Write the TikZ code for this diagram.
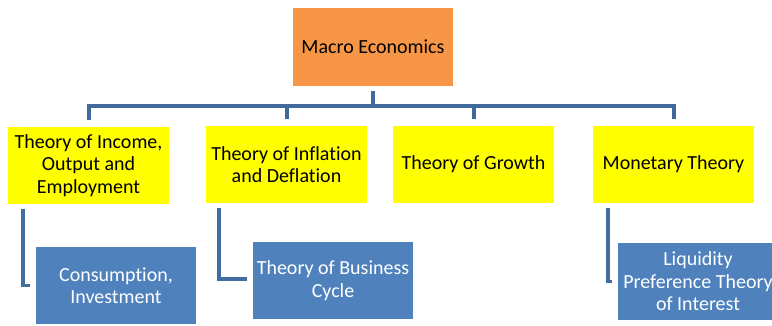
\documentclass[tikz,border=0pt]{standalone}
\usepackage{fontspec}
\setmainfont{Carlito}[Ligatures=NoCommon]
\usepackage{tikz}
\usetikzlibrary{positioning}

\definecolor{macroorange}{HTML}{F79646}
\definecolor{theoryyellow}{HTML}{FFFF00}
\definecolor{subblue}{HTML}{4F81BD}
\definecolor{linkblue}{HTML}{41699B}

\begin{document}
\begin{tikzpicture}[x=1pt, y=-1pt,
  box/.style={minimum width=160pt, minimum height=77pt, inner sep=2pt,
    align=center, font=\fontsize{20}{22.5}\selectfont},
  topbox/.style={box, fill=macroorange, minimum height=78pt},
  theorybox/.style={box, fill=theoryyellow, minimum width=161pt},
  subbox/.style={box, fill=subblue, text=white},
  link/.style={draw=linkblue, line width=4pt},
  sublink/.style={draw=linkblue!85!subblue, line width=3.5pt}]
  \useasboundingbox (0,0) rectangle (772,325);

  % Root
  \node[topbox] (macro) at (373,47) {Macro Economics};

  % Main branches
  \node[theorybox] (income) at (88.5,165.5) {Theory of Income,\\Output and\\Employment};
  \node[theorybox] (inflation) at (286.5,164.5) {Theory of Inflation\\and Deflation};
  \node[theorybox] (growth) at (473.5,164.5) {Theory of Growth};
  \node[theorybox] (monetary) at (673.5,164.5) {Monetary Theory};

  % Sub topics
  \node[subbox] (consumption) at (116,285.5) {Consumption,\\Investment};
  \node[subbox] (cycle) at (333,280.5) {Theory of Business\\Cycle};
  \node[subbox] (liquidity) at (698,281.5) {Liquidity\\Preference Theory\\of Interest};

  % Tree connectors
  \coordinate (hub) at (373,106);
  \draw[link] ([yshift=-5pt]macro.south) -- (hub);
  \foreach \child in {income, inflation, growth, monetary}
    \draw[link] (hub) -| ([yshift=7pt]\child.north);

  % Elbow connectors to sub topics
  \draw[sublink] ([xshift=15pt, yshift=-5pt]income.south west) |- ([xshift=-6pt]consumption.west);
  \draw[sublink] ([xshift=13pt, yshift=-5pt]inflation.south west) |- ([xshift=-6pt, yshift=1.5pt]cycle.west);
  \draw[sublink] ([xshift=15pt, yshift=-5pt]monetary.south west) |- ([xshift=-6pt]liquidity.west);
\end{tikzpicture}
\end{document}
